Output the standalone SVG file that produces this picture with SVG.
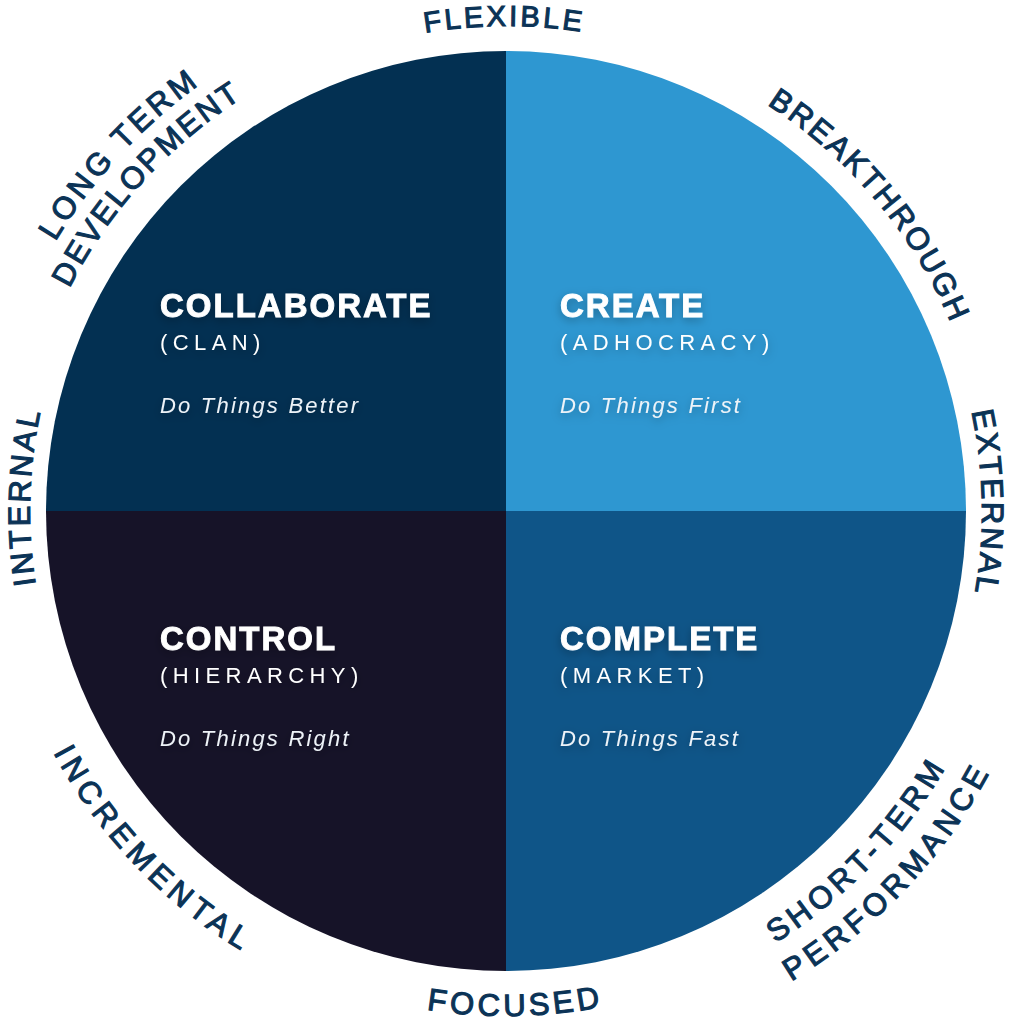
<svg xmlns="http://www.w3.org/2000/svg" xmlns:xlink="http://www.w3.org/1999/xlink" width="1012" height="1024" viewBox="0 0 1012 1024">
<style>
.lbl{font-family:"Liberation Sans",Arial,sans-serif;font-size:31px;fill:#0b3356;stroke:#0b3356;stroke-width:1.1px;}
.title{font-family:"Liberation Sans",Arial,sans-serif;font-weight:bold;font-size:33px;fill:#ffffff;stroke:#ffffff;stroke-width:0.9px;letter-spacing:2px;}
.sub{font-family:"Liberation Sans",Arial,sans-serif;font-size:22px;fill:#ffffff;letter-spacing:5.4px;}
.tag{font-family:"Liberation Sans",Arial,sans-serif;font-style:italic;font-size:22px;fill:#eef3f8;letter-spacing:2.2px;}
</style>
<defs>
<filter id="sh" x="-20%" y="-50%" width="140%" height="200%">
<feDropShadow dx="0" dy="3" stdDeviation="5" flood-color="#000" flood-opacity="0.28"/>
</filter>
<path id="cw485" d="M28.37,426.78 A485,485 0 0 1 983.63,426.78"/>
<path id="cw483" d="M30.34,427.13 A483,483 0 0 1 981.66,427.13"/>
<path id="cw476" d="M37.23,428.34 A476,476 0 0 1 974.77,428.34"/>
<path id="cw525" d="M-11.03,419.83 A525,525 0 0 1 1023.03,419.83"/>
<path id="cw490" d="M23.44,425.91 A490,490 0 0 1 988.56,425.91"/>
<path id="ccw505" d="M8.67,598.69 A505,505 0 0 0 1003.33,598.69"/>
<path id="ccw513" d="M0.79,600.08 A513,513 0 0 0 1011.21,600.08"/>
<path id="ccw509" d="M4.73,599.39 A509,509 0 0 0 1007.27,599.39"/>
<path id="ccw550" d="M-35.65,606.51 A550,550 0 0 0 1047.65,606.51"/>
</defs>
<rect width="1012" height="1024" fill="#ffffff"/>

<g id="collaborate">
<path d="M506,511 L46,511 A460,460 0 0 1 506,51 Z" fill="#033052"/>
<g filter="url(#sh)">
<text class="title" x="160" y="317">COLLABORATE</text>
<text class="sub" x="160" y="350">(CLAN)</text>
<text class="tag" x="160" y="413">Do Things Better</text>
</g>
</g>

<g id="create">
<path d="M506,511 L506,51 A460,460 0 0 1 966,511 Z" fill="#2e97d1"/>
<g filter="url(#sh)">
<text class="title" x="560" y="317">CREATE</text>
<text class="sub" x="560" y="350">(ADHOCRACY)</text>
<text class="tag" x="560" y="413">Do Things First</text>
</g>
</g>

<g id="control">
<path d="M506,511 L506,971 A460,460 0 0 1 46,511 Z" fill="#161328"/>
<g filter="url(#sh)">
<text class="title" x="160" y="650">CONTROL</text>
<text class="sub" x="160" y="683">(HIERARCHY)</text>
<text class="tag" x="160" y="746">Do Things Right</text>
</g>
</g>

<g id="complete">
<path d="M506,511 L966,511 A460,460 0 0 1 506,971 Z" fill="#0f5588"/>
<g filter="url(#sh)">
<text class="title" x="560" y="650">COMPLETE</text>
<text class="sub" x="560" y="683">(MARKET)</text>
<text class="tag" x="560" y="746">Do Things Fast</text>
</g>
</g>

<g id="labels">
<g id="lbl-flexible" transform="rotate(-0.2 506 511)"><text class="lbl" text-anchor="middle" style="font-size:29px;letter-spacing:3px"><textPath xlink:href="#cw485" href="#cw485" startOffset="50%">FLEXIBLE</textPath></text></g>
<g id="lbl-breakthrough" transform="rotate(50 506 511)"><text class="lbl" text-anchor="middle" style="letter-spacing:2.5px"><textPath xlink:href="#cw483" href="#cw483" startOffset="50%">BREAKTHROUGH</textPath></text></g>
<g id="lbl-external" transform="rotate(89 506 511)"><text class="lbl" text-anchor="middle" style="letter-spacing:2.6px"><textPath xlink:href="#cw476" href="#cw476" startOffset="50%">EXTERNAL</textPath></text></g>
<g id="lbl-internal" transform="rotate(-88.3 506 511)"><text class="lbl" text-anchor="middle" style="letter-spacing:2.9px"><textPath xlink:href="#cw476" href="#cw476" startOffset="50%">INTERNAL</textPath></text></g>
<g id="lbl-longterm" transform="rotate(-47.3 506 511)"><text class="lbl" text-anchor="middle" style="letter-spacing:3.7px"><textPath xlink:href="#cw525" href="#cw525" startOffset="50%">LONG TERM</textPath></text></g>
<g id="lbl-development" transform="rotate(-47.7 506 511)"><text class="lbl" text-anchor="middle" style="letter-spacing:2.5px"><textPath xlink:href="#cw490" href="#cw490" startOffset="50%">DEVELOPMENT</textPath></text></g>
<g id="lbl-focused" transform="rotate(-1.1 506 511)"><text class="lbl" text-anchor="middle" style="letter-spacing:3.9px"><textPath xlink:href="#ccw505" href="#ccw505" startOffset="50%">FOCUSED</textPath></text></g>
<g id="lbl-incremental" transform="rotate(46.2 506 511)"><text class="lbl" text-anchor="middle" style="letter-spacing:5.6px"><textPath xlink:href="#ccw513" href="#ccw513" startOffset="50%">INCREMENTAL</textPath></text></g>
<g id="lbl-shortterm" transform="rotate(-46 506 511)"><text class="lbl" text-anchor="middle" style="letter-spacing:4.6px"><textPath xlink:href="#ccw509" href="#ccw509" startOffset="50%">SHORT-TERM</textPath></text></g>
<g id="lbl-performance" transform="rotate(-46.6 506 511)"><text class="lbl" text-anchor="middle" style="letter-spacing:4.9px"><textPath xlink:href="#ccw550" href="#ccw550" startOffset="50%">PERFORMANCE</textPath></text></g>
</g>
</svg>
